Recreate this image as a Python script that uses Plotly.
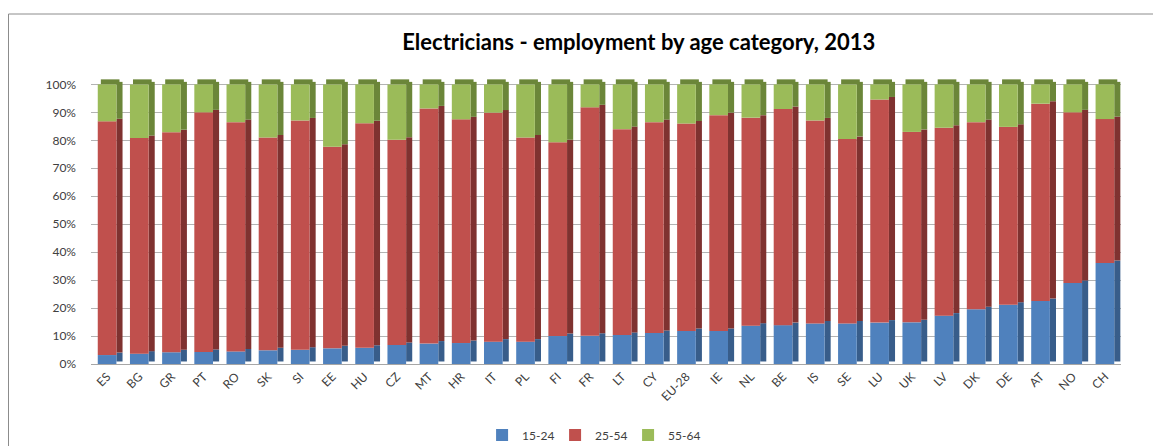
import plotly.graph_objects as go

# Share of electricians by age group, 2013 (%)
countries = ["ES", "BG", "GR", "PT", "RO", "SK", "SI", "EE", "HU", "CZ", "MT",
             "HR", "IT", "PL", "FI", "FR", "LT", "CY", "EU-28", "IE", "NL", "BE",
             "IS", "SE", "LU", "UK", "LV", "DK", "DE", "AT", "NO", "CH"]
age_15_24 = [3.2, 3.7, 4.2, 4.3, 4.5, 4.9, 5.1, 5.6, 5.8, 6.8, 7.3,
             7.5, 8.0, 8.0, 10.0, 10.1, 10.4, 11.1, 11.8, 11.8, 13.7, 13.9,
             14.5, 14.5, 14.8, 14.9, 17.3, 19.6, 21.2, 22.5, 29.0, 36.1]
age_25_54 = [83.6, 77.1, 78.7, 85.7, 82.0, 76.1, 82.0, 72.1, 80.3, 73.4, 84.1,
             80.0, 81.9, 73.0, 69.3, 81.7, 73.6, 75.4, 74.2, 77.2, 74.4, 77.3,
             72.6, 66.0, 79.8, 68.1, 67.2, 66.9, 63.6, 70.6, 61.0, 51.5]
age_55_64 = [13.2, 19.2, 17.1, 10.0, 13.5, 19.0, 12.9, 22.3, 13.9, 19.8, 8.6,
             12.5, 10.1, 19.0, 20.7, 8.2, 16.0, 13.5, 14.0, 11.0, 11.9, 8.8,
             12.9, 19.5, 5.4, 17.0, 15.5, 13.5, 15.2, 6.9, 10.0, 12.4]

series = [
    ("15-24", age_15_24, "#4F81BD", "#385D8A"),
    ("25-54", age_25_54, "#C0504D", "#7F3230"),
    ("55-64", age_55_64, "#9BBB59", "#6B8639"),
]

W = 0.58      # front face width (category units)
DX = 0.19     # depth to the right
DY = 0.018    # depth upwards (fraction)

ticks = [i / 10 for i in range(11)]

fig = go.Figure()

# normalise to shares
shares = []
for name, vals, c, cd in series:
    shares.append([v / 100 for v in vals])

# side faces (drawn first, behind front faces)
base = [0.0] * len(countries)
for (name, vals, c, cd), sh in zip(series, shares):
    fig.add_trace(go.Bar(
        x=countries, y=sh, base=[b + DY / 2 for b in base],
        offset=W / 2, width=DX, marker=dict(color=cd, line=dict(width=0)),
        showlegend=False, hoverinfo="skip"))
    base = [b + s for b, s in zip(base, sh)]

# top faces
fig.add_trace(go.Bar(
    x=countries, y=[DY] * len(countries), base=base,
    offset=-W / 2 + DX / 2, width=W, marker=dict(color=series[2][3], line=dict(width=0)),
    showlegend=False, hoverinfo="skip"))

# front faces
base = [0.0] * len(countries)
for (name, vals, c, cd), sh in zip(series, shares):
    fig.add_trace(go.Bar(
        x=countries, y=sh, base=list(base), name=name,
        offset=-W / 2, width=W, marker=dict(color=c, line=dict(width=0)),
        hovertemplate="%{x}: %{y:.1%}<extra>" + name + "</extra>"))
    base = [b + s for b, s in zip(base, sh)]

# outer chart border
border = dict(type="rect", xref="paper", yref="paper",
              x0=-82.5 / 1030, x1=1 + 60 / 1030,
              y0=-120 / 288, y1=1 + 62 / 288,
              line=dict(color="#8C8C8C", width=1), layer="below")

# page body adds 8px margin, so the figure is 8px smaller than the window
fig.update_layout(
    width=1153, height=438,
    barmode="overlay",
    paper_bgcolor="white", plot_bgcolor="rgba(0,0,0,0)",
    font=dict(family="Lato, Liberation Sans, sans-serif", size=12, color="#404040"),
    title=dict(text="<b>Electricians - employment by age category, 2013</b>",
               x=0.547, xanchor="center", y=0.922, yanchor="middle",
               font=dict(size=22, color="#000000")),
    margin=dict(l=83, r=40, t=68, b=82, autoexpand=False),
    xaxis=dict(type="category", range=[-0.5, len(countries) - 0.5],
               tickangle=-45, showgrid=False, showline=True, linecolor="#A6A6A6",
               ticks="", automargin=False, tickfont=dict(size=12, color="#404040")),
    yaxis=dict(range=[0, 1.03], tickmode="array", tickvals=ticks,
               tickformat=".0%", showgrid=True, gridcolor="#B3B3B3", gridwidth=1,
               zeroline=False, showline=False, ticks="", ticklabelstandoff=14,
               automargin=False, tickfont=dict(size=12, color="#404040")),
    legend=dict(orientation="h", x=0.486, xanchor="center", y=-0.2465, yanchor="middle",
                font=dict(size=12, color="#404040"),
                entrywidth=28, entrywidthmode="pixels", itemwidth=30,
                traceorder="normal"),
    shapes=[border],
)

fig.write_html("out.html")
